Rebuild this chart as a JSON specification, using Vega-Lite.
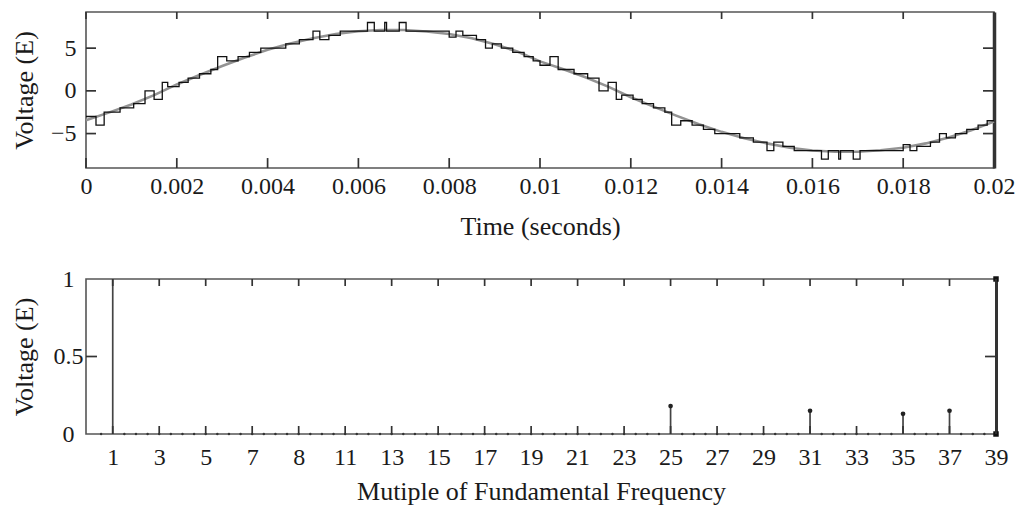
{
  "$schema": "https://vega.github.io/schema/vega-lite/v6.json",
  "background": "white",
  "padding": {"left": 10, "top": 11, "right": 10, "bottom": 5},
  "config": {
    "font": "Liberation Serif",
    "view": {"stroke": "#555", "strokeWidth": 1.6},
    "tick": {"thickness": 1.7, "color": "#333", "opacity": 1},
    "axis": {
      "labelFont": "Liberation Serif",
      "titleFont": "Liberation Serif",
      "labelFontSize": 24,
      "titleFontSize": 26,
      "titleFontWeight": "normal",
      "labelColor": "#1a1a1a",
      "titleColor": "#1a1a1a",
      "grid": false,
      "domain": false,
      "ticks": false,
      "labelFlush": false,
      "labelOverlap": false
    }
  },
  "datasets": {
    "smooth": [
      {"t": 0, "v": -3.45}, {"t": 0.0005, "v": -2.55}, {"t": 0.001, "v": -1.6}, {"t": 0.0015, "v": -0.5},
      {"t": 0.002, "v": 0.75}, {"t": 0.0025, "v": 1.85}, {"t": 0.003, "v": 2.9}, {"t": 0.0035, "v": 3.9},
      {"t": 0.004, "v": 4.8}, {"t": 0.0045, "v": 5.55}, {"t": 0.005, "v": 6.15}, {"t": 0.0055, "v": 6.65},
      {"t": 0.006, "v": 6.98}, {"t": 0.0065, "v": 7.12}, {"t": 0.007, "v": 7.12}, {"t": 0.0075, "v": 6.95},
      {"t": 0.008, "v": 6.65}, {"t": 0.0085, "v": 6.15}, {"t": 0.009, "v": 5.45}, {"t": 0.0095, "v": 4.6},
      {"t": 0.01, "v": 3.45}, {"t": 0.0105, "v": 2.55}, {"t": 0.011, "v": 1.6}, {"t": 0.0115, "v": 0.5},
      {"t": 0.012, "v": -0.75}, {"t": 0.0125, "v": -1.85}, {"t": 0.013, "v": -2.9}, {"t": 0.0135, "v": -3.9},
      {"t": 0.014, "v": -4.8}, {"t": 0.0145, "v": -5.55}, {"t": 0.015, "v": -6.15}, {"t": 0.0155, "v": -6.65},
      {"t": 0.016, "v": -6.98}, {"t": 0.0165, "v": -7.12}, {"t": 0.017, "v": -7.12}, {"t": 0.0175, "v": -6.95},
      {"t": 0.018, "v": -6.65}, {"t": 0.0185, "v": -6.15}, {"t": 0.019, "v": -5.45}, {"t": 0.0195, "v": -4.6},
      {"t": 0.02, "v": -3.6}
    ],
    "steps": [
      {"t": 0, "v": -3}, {"t": 0.00022, "v": -4}, {"t": 0.0004, "v": -2.5}, {"t": 0.00075, "v": -2},
      {"t": 0.00105, "v": -1.5}, {"t": 0.0013, "v": 0}, {"t": 0.0015, "v": -1}, {"t": 0.00168, "v": 1},
      {"t": 0.0018, "v": 0.5}, {"t": 0.00205, "v": 1}, {"t": 0.00225, "v": 1.5}, {"t": 0.0025, "v": 2},
      {"t": 0.00275, "v": 2.5}, {"t": 0.0029, "v": 4}, {"t": 0.0031, "v": 3.5}, {"t": 0.00335, "v": 4},
      {"t": 0.0036, "v": 4.5}, {"t": 0.00385, "v": 5}, {"t": 0.0044, "v": 5.5}, {"t": 0.0047, "v": 6},
      {"t": 0.005, "v": 7}, {"t": 0.00515, "v": 6}, {"t": 0.00535, "v": 6.5}, {"t": 0.0056, "v": 7},
      {"t": 0.0062, "v": 8}, {"t": 0.00635, "v": 7}, {"t": 0.00658, "v": 8}, {"t": 0.00662, "v": 7},
      {"t": 0.0069, "v": 8}, {"t": 0.00705, "v": 7}, {"t": 0.008, "v": 6.3}, {"t": 0.00815, "v": 7},
      {"t": 0.0083, "v": 6.5}, {"t": 0.0086, "v": 6}, {"t": 0.0088, "v": 5}, {"t": 0.00895, "v": 5.5},
      {"t": 0.00915, "v": 5}, {"t": 0.0094, "v": 4.5}, {"t": 0.00965, "v": 4}, {"t": 0.00985, "v": 3.5},
      {"t": 0.01, "v": 3}, {"t": 0.01022, "v": 4}, {"t": 0.0104, "v": 2.5}, {"t": 0.01075, "v": 2},
      {"t": 0.01105, "v": 1.5}, {"t": 0.0113, "v": 0}, {"t": 0.0115, "v": 1}, {"t": 0.01168, "v": -1},
      {"t": 0.0118, "v": -0.5}, {"t": 0.01205, "v": -1}, {"t": 0.01225, "v": -1.5}, {"t": 0.0125, "v": -2},
      {"t": 0.01275, "v": -2.5}, {"t": 0.0129, "v": -4}, {"t": 0.0131, "v": -3.5}, {"t": 0.01335, "v": -4},
      {"t": 0.0136, "v": -4.5}, {"t": 0.01385, "v": -5}, {"t": 0.0144, "v": -5.5}, {"t": 0.0147, "v": -6},
      {"t": 0.015, "v": -7}, {"t": 0.01515, "v": -6}, {"t": 0.01535, "v": -6.5}, {"t": 0.0156, "v": -7},
      {"t": 0.0162, "v": -8}, {"t": 0.01635, "v": -7}, {"t": 0.01658, "v": -8}, {"t": 0.01662, "v": -7},
      {"t": 0.0169, "v": -8}, {"t": 0.01705, "v": -7}, {"t": 0.018, "v": -6.3}, {"t": 0.01815, "v": -7},
      {"t": 0.0183, "v": -6.5}, {"t": 0.0186, "v": -6}, {"t": 0.0188, "v": -5}, {"t": 0.01895, "v": -5.5},
      {"t": 0.01915, "v": -5}, {"t": 0.0194, "v": -4.5}, {"t": 0.01965, "v": -4}, {"t": 0.01985, "v": -3.5},
      {"t": 0.02, "v": -3.5}
    ],
    "spectrum": [
      {"h": 0.5, "v": 0}, {"h": 1, "v": 1}, {"h": 1.5, "v": 0}, {"h": 2, "v": 0}, {"h": 2.5, "v": 0},
      {"h": 3, "v": 0}, {"h": 3.5, "v": 0}, {"h": 4, "v": 0}, {"h": 4.5, "v": 0}, {"h": 5, "v": 0},
      {"h": 5.5, "v": 0}, {"h": 6, "v": 0}, {"h": 6.5, "v": 0}, {"h": 7, "v": 0}, {"h": 7.5, "v": 0},
      {"h": 8, "v": 0}, {"h": 8.5, "v": 0}, {"h": 9, "v": 0}, {"h": 9.5, "v": 0}, {"h": 10, "v": 0},
      {"h": 10.5, "v": 0}, {"h": 11, "v": 0}, {"h": 11.5, "v": 0}, {"h": 12, "v": 0}, {"h": 12.5, "v": 0},
      {"h": 13, "v": 0}, {"h": 13.5, "v": 0}, {"h": 14, "v": 0}, {"h": 14.5, "v": 0}, {"h": 15, "v": 0},
      {"h": 15.5, "v": 0}, {"h": 16, "v": 0}, {"h": 16.5, "v": 0}, {"h": 17, "v": 0}, {"h": 17.5, "v": 0},
      {"h": 18, "v": 0}, {"h": 18.5, "v": 0}, {"h": 19, "v": 0}, {"h": 19.5, "v": 0}, {"h": 20, "v": 0},
      {"h": 20.5, "v": 0}, {"h": 21, "v": 0}, {"h": 21.5, "v": 0}, {"h": 22, "v": 0}, {"h": 22.5, "v": 0},
      {"h": 23, "v": 0}, {"h": 23.5, "v": 0}, {"h": 24, "v": 0}, {"h": 24.5, "v": 0}, {"h": 25, "v": 0.18},
      {"h": 25.5, "v": 0}, {"h": 26, "v": 0}, {"h": 26.5, "v": 0}, {"h": 27, "v": 0}, {"h": 27.5, "v": 0},
      {"h": 28, "v": 0}, {"h": 28.5, "v": 0}, {"h": 29, "v": 0}, {"h": 29.5, "v": 0}, {"h": 30, "v": 0},
      {"h": 30.5, "v": 0}, {"h": 31, "v": 0.15}, {"h": 31.5, "v": 0}, {"h": 32, "v": 0}, {"h": 32.5, "v": 0},
      {"h": 33, "v": 0}, {"h": 33.5, "v": 0}, {"h": 34, "v": 0}, {"h": 34.5, "v": 0}, {"h": 35, "v": 0.13},
      {"h": 35.5, "v": 0}, {"h": 36, "v": 0}, {"h": 36.5, "v": 0}, {"h": 37, "v": 0.15}, {"h": 37.5, "v": 0},
      {"h": 38, "v": 0}, {"h": 38.5, "v": 0}, {"h": 39, "v": 0}
    ],
    "edge": [{"h": 39, "v": 0}, {"h": 39, "v": 1}],
    "vticksTop": [{"v": -5}, {"v": 0}, {"v": 5}],
    "vticksBottom": [{"v": 0.5}]
  },
  "spacing": 111,
  "bounds": "flush",
  "vconcat": [
    {
      "width": 908,
      "height": 156,
      "layer": [
        {
          "data": {"name": "smooth"},
          "mark": {"type": "line", "color": "#939393", "strokeWidth": 2.6},
          "encoding": {
            "x": {
              "field": "t", "type": "quantitative",
              "scale": {"domain": [0, 0.02], "nice": false, "zero": false},
              "axis": {
                "orient": "bottom",
                "values": [0, 0.002, 0.004, 0.006, 0.008, 0.01, 0.012, 0.014, 0.016, 0.018, 0.02],
                "format": "~g", "labelPadding": 6,
                "title": "Time (seconds)", "titleY": 45, "titleBaseline": "top"
              }
            },
            "y": {
              "field": "v", "type": "quantitative",
              "scale": {"domain": [-9.03, 9.23], "nice": false, "zero": false},
              "axis": {
                "orient": "left", "values": [-5, 0, 5], "format": "~g",
                "labelPadding": 10,
                "title": "Voltage (E)", "titleX": -49
              }
            }
          }
        },
        {
          "data": {"name": "steps"},
          "mark": {"type": "line", "interpolate": "step-after", "color": "#111", "strokeWidth": 1.3},
          "encoding": {
            "x": {"field": "t", "type": "quantitative", "axis": null},
            "y": {
              "field": "v", "type": "quantitative",
              "axis": {
                "orient": "right", "values": [-5, 0, 5], "labels": false, "title": null,
                "domain": true, "domainWidth": 3.5, "domainColor": "#333"
              }
            }
          }
        },
        {
          "data": {"name": "smooth"},
          "transform": [{"filter": "abs(datum.t * 500 - round(datum.t * 500)) < 0.001"}],
          "mark": {"type": "tick", "orient": "vertical", "size": 10},
          "encoding": {
            "x": {"field": "t", "type": "quantitative", "axis": null},
            "y": {"datum": -8.45, "type": "quantitative", "axis": null}
          }
        },
        {
          "data": {"name": "smooth"},
          "transform": [{"filter": "abs(datum.t * 500 - round(datum.t * 500)) < 0.001"}],
          "mark": {"type": "tick", "orient": "vertical", "size": 7},
          "encoding": {
            "x": {"field": "t", "type": "quantitative", "axis": null},
            "y": {"datum": 8.82, "type": "quantitative", "axis": null}
          }
        },
        {
          "data": {"name": "vticksTop"},
          "mark": {"type": "tick", "orient": "horizontal", "size": 10},
          "encoding": {
            "y": {"field": "v", "type": "quantitative", "axis": null},
            "x": {"datum": 0.00011, "type": "quantitative", "axis": null}
          }
        },
        {
          "data": {"name": "vticksTop"},
          "mark": {"type": "tick", "orient": "horizontal", "size": 11},
          "encoding": {
            "y": {"field": "v", "type": "quantitative", "axis": null},
            "x": {"datum": 0.019879, "type": "quantitative", "axis": null}
          }
        }
      ],
      "resolve": {"axis": {"x": "independent", "y": "independent"}}
    },
    {
      "width": 910,
      "height": 155,
      "layer": [
        {
          "data": {"name": "spectrum"},
          "transform": [{"filter": "datum.v > 0"}],
          "mark": {"type": "rule", "color": "#444", "strokeWidth": 1.7},
          "encoding": {
            "x": {
              "field": "h", "type": "quantitative",
              "scale": {"domain": [-0.15, 39], "nice": false, "zero": false},
              "axis": {
                "orient": "bottom",
                "values": [1, 3, 5, 7, 9, 11, 13, 15, 17, 19, 21, 23, 25, 27, 29, 31, 33, 35, 37, 39],
                "labelExpr": "datum.value == 9 ? '8' : datum.label",
                "labelPadding": 11,
                "title": "Mutiple of Fundamental Frequency", "titleY": 44, "titleBaseline": "top"
              }
            },
            "y": {
              "field": "v", "type": "quantitative",
              "scale": {"domain": [0, 1], "nice": false, "zero": false},
              "axis": {
                "orient": "left", "values": [0, 0.5, 1], "format": "~g",
                "labelPadding": 18, "labelAlign": "center",
                "title": "Voltage (E)", "titleX": -49
              }
            },
            "y2": {"datum": 0}
          }
        },
        {
          "data": {"name": "spectrum"},
          "transform": [{"filter": "datum.v == 0"}],
          "mark": {"type": "point", "filled": true, "color": "#333", "opacity": 1, "size": 6},
          "encoding": {
            "x": {"field": "h", "type": "quantitative", "axis": null},
            "y": {
              "field": "v", "type": "quantitative",
              "axis": {
                "orient": "right", "labels": false, "title": null,
                "domain": true, "domainWidth": 3, "domainColor": "#333"
              }
            }
          }
        },
        {
          "data": {"name": "spectrum"},
          "transform": [{"filter": "datum.v > 0 && datum.v < 0.9"}],
          "mark": {"type": "point", "filled": true, "color": "#222", "opacity": 1, "size": 22},
          "encoding": {
            "x": {"field": "h", "type": "quantitative", "axis": null},
            "y": {"field": "v", "type": "quantitative", "axis": null}
          }
        },
        {
          "data": {"name": "edge"},
          "mark": {"type": "square", "filled": true, "color": "#111", "opacity": 1, "size": 30},
          "encoding": {
            "x": {"field": "h", "type": "quantitative", "axis": null},
            "y": {"field": "v", "type": "quantitative", "axis": null}
          }
        },
        {
          "data": {"name": "spectrum"},
          "transform": [{"filter": "datum.h % 2 == 1"}],
          "mark": {"type": "tick", "orient": "vertical", "size": 8},
          "encoding": {
            "x": {"field": "h", "type": "quantitative", "axis": null},
            "y": {"datum": 0.0258, "type": "quantitative", "axis": null}
          }
        },
        {
          "data": {"name": "spectrum"},
          "transform": [{"filter": "datum.h % 2 == 1"}],
          "mark": {"type": "tick", "orient": "vertical", "size": 7},
          "encoding": {
            "x": {"field": "h", "type": "quantitative", "axis": null},
            "y": {"datum": 0.9774, "type": "quantitative", "axis": null}
          }
        },
        {
          "data": {"name": "vticksBottom"},
          "mark": {"type": "tick", "orient": "horizontal", "size": 11},
          "encoding": {
            "y": {"field": "v", "type": "quantitative", "axis": null},
            "x": {"datum": 0.086, "type": "quantitative", "axis": null}
          }
        },
        {
          "data": {"name": "vticksBottom"},
          "mark": {"type": "tick", "orient": "horizontal", "size": 11},
          "encoding": {
            "y": {"field": "v", "type": "quantitative", "axis": null},
            "x": {"datum": 38.764, "type": "quantitative", "axis": null}
          }
        }
      ],
      "resolve": {"axis": {"x": "independent", "y": "independent"}}
    }
  ]
}
